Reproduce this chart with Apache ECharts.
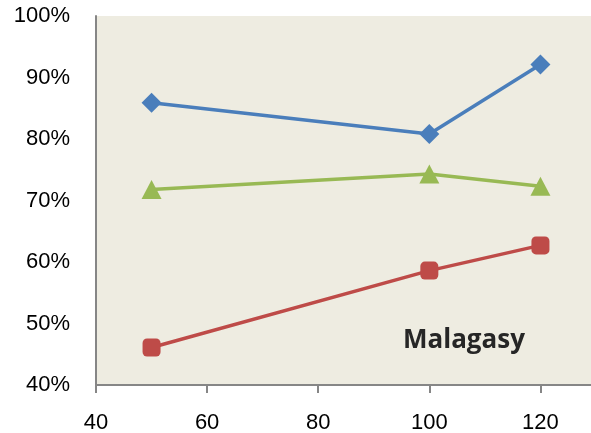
<!DOCTYPE html>
<html>
<head>
<meta charset="utf-8">
<script src="https://cdn.jsdelivr.net/npm/echarts@6/dist/echarts.min.js"></script>
<style>
  html, body { margin: 0; padding: 0; background: #ffffff; }
  #chart { width: 591px; height: 433px; }
</style>
</head>
<body>
<div id="chart"></div>
<script>
// Accuracy (%) by amount of training data, Malagasy
const xValues = [50, 100, 120];
const blueSeries = [85.9, 80.8, 92.1];
const greenSeries = [71.8, 74.3, 72.3];
const redSeries = [46.1, 58.6, 62.7];
const xTicks = [40, 60, 80, 100, 120];
const yTicks = [40, 50, 60, 70, 80, 90, 100];
const chartLabel = 'Malagasy';

const pairs = vals => xValues.map((x, i) => [x, vals[i]]);
const font = '"Liberation Sans", "DejaVu Sans", sans-serif';

const chart = echarts.init(document.getElementById('chart'), null, { renderer: 'canvas' });

function lineSeries(vals, color, symbol, size) {
  return {
    type: 'line',
    data: pairs(vals),
    symbol: symbol,
    symbolSize: size,
    showAllSymbol: true,
    lineStyle: { color: color, width: 3.5 },
    itemStyle: { color: color, borderWidth: 0 },
    z: 3
  };
}

chart.setOption({
  animation: false,
  backgroundColor: '#ffffff',
  title: {
    text: chartLabel,
    left: 398,
    top: 323,
    textStyle: { fontFamily: '"Open Sans", sans-serif', fontSize: 26, fontWeight: 'bold', color: '#262626' }
  },
  grid: {
    left: 96, top: 16, width: 500, height: 369,
    outerBoundsMode: 'none',
    containLabel: false,
    show: true, backgroundColor: '#EEECE1', borderWidth: 0
  },
  xAxis: {
    type: 'value',
    min: xTicks[0], max: 130, interval: 20,
    splitLine: { show: false },
    axisLine: { lineStyle: { color: '#868686', width: 2 } },
    axisTick: { show: true, length: 8, lineStyle: { color: '#868686', width: 2 } },
    axisLabel: {
      margin: 27, color: '#000', fontSize: 22, fontFamily: font,
      showMaxLabel: false,
      formatter: v => (xTicks.includes(v) ? String(v) : '')
    }
  },
  yAxis: {
    type: 'value',
    min: yTicks[0], max: yTicks[yTicks.length - 1], interval: 10,
    splitLine: { show: false },
    axisLine: { show: true, lineStyle: { color: '#868686', width: 2 } },
    axisTick: { show: false },
    axisLabel: {
      margin: 26, color: '#000', fontSize: 22, fontFamily: font,
      padding: [7, 0, 0, 0],
      formatter: v => v + '%'
    }
  },
  series: [
    lineSeries(blueSeries, '#4A7EBB', 'diamond', 20),
    lineSeries(greenSeries, '#98B954', 'triangle', [20, 19]),
    lineSeries(redSeries, '#BE4B48', 'roundRect', 18)
  ]
});
</script>
</body>
</html>
